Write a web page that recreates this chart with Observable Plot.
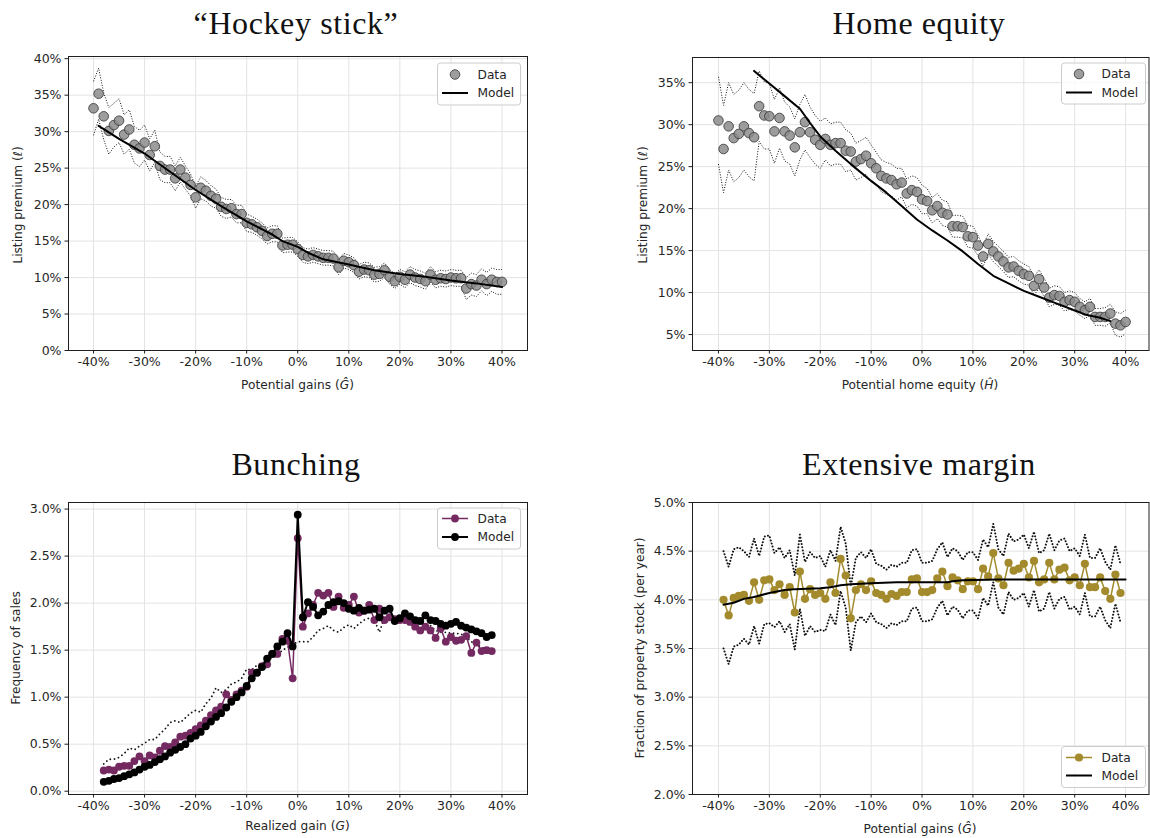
<!DOCTYPE html>
<html><head><meta charset="utf-8">
<script src="https://cdn.jsdelivr.net/npm/d3@7"></script>
<script src="https://cdn.jsdelivr.net/npm/@observablehq/plot@0.6"></script>
<style>
body{margin:0;background:#fff;}
#page{position:relative;width:1150px;height:838px;background:#fff;overflow:hidden;font-family:"DejaVu Sans",sans-serif;}
#page svg{position:absolute;}
</style></head><body><div id="page"></div>
<script>
// ---------- shared x grid (potential / realized gains, %) ----------
const gains = [-40,-39,-38,-37,-36,-35,-34,-33,-32,-31,-30,-29,-28,-27,-26,-25,-24,-23,-22,-21,-20,-19,-18,-17,-16,-15,-14,-13,-12,-11,-10,-9,-8,-7,-6,-5,-4,-3,-2,-1,0,1,2,3,4,5,6,7,8,9,10,11,12,13,14,15,16,17,18,19,20,21,22,23,24,25,26,27,28,29,30,31,32,33,34,35,36,37,38,39,40];
const xTicks = [-40,-30,-20,-10,0,10,20,30,40];

// ---------- Panel 1: "Hockey stick" ----------
const hockeyData = [33.2,35.2,32.1,30.1,30.9,31.5,29.6,30.3,28.2,27.7, 28.5,26.8,28.0,25.3,24.8,24.8,23.6,24.8,23.7,22.7, 21.0,22.3,21.9,21.2,20.8,19.7,19.4,19.5,18.7,18.7, 17.5,17.3,16.9,16.4,15.7,16.0,16.0,14.4,14.5,14.5, 13.9,13.1,12.9,13.1,12.9,12.7,12.7,12.6,11.4,12.3, 12.1,11.7,10.8,11.1,11.0,10.4,10.5,11.0,10.1,9.5, 10.1,9.7,10.4,10.0,9.8,9.5,10.4,9.7,9.9,9.8, 10.0,9.9,9.9,8.5,9.1,8.9,9.7,9.1,9.7,9.4, 9.4];
const hockeyUpper = [36.9,38.7,35.3,33.3,33.9,34.5,32.3,33.0,30.7,30.2, 30.9,29.0,30.2,27.2,26.6,26.6,25.3,26.5,25.3,24.2, 22.5,23.8,23.3,22.6,22.1,21.0,20.7,20.7,19.9,19.9, 18.7,18.4,18.0,17.5,16.8,17.1,17.1,15.4,15.5,15.5, 14.9,14.1,13.9,14.1,13.9,13.7,13.7,13.6,12.4,13.3, 13.1,12.7,11.8,12.1,12.0,11.4,11.5,12.0,11.1,10.5, 11.1,10.8,11.5,11.1,10.9,10.6,11.5,10.8,11.0,10.9, 11.1,11.0,11.0,10.0,10.6,10.4,11.2,10.7,11.3,11.1, 11.1];
const hockeyLower = [29.5,31.7,28.9,26.9,27.9,28.5,26.9,27.6,25.7,25.2, 26.1,24.6,25.8,23.4,23.0,23.0,21.9,23.1,22.1,21.2, 19.5,20.8,20.5,19.8,19.5,18.4,18.1,18.3,17.5,17.5, 16.3,16.2,15.8,15.3,14.6,14.9,14.9,13.4,13.5,13.5, 12.9,12.1,11.9,12.1,11.9,11.7,11.7,11.6,10.4,11.3, 11.1,10.7,9.8,10.1,10.0,9.4,9.5,10.0,9.1,8.5, 9.1,8.6,9.3,8.9,8.7,8.4,9.3,8.6,8.8,8.7, 8.9,8.8,8.8,7.0,7.6,7.4,8.2,7.5,8.1,7.7, 7.7];
const hockeyModelX = [-39,-35,-30,-27,-25,-20,-15,-10,-5,-3,0,2,5,10,15,20,25,30,35,40];
const hockeyModelY = [30.8,29.0,27.0,25.5,24.5,22.0,19.8,17.7,15.9,15.0,14.2,13.4,12.5,11.8,11.0,10.5,10.1,9.6,9.2,8.7];
const hockeyYTicks = [0,5,10,15,20,25,30,35,40];

// ---------- Panel 2: Home equity ----------
const equityData = [30.5,27.1,29.8,28.4,28.9,29.8,29.0,28.5,32.2,31.1, 31.0,29.2,30.8,29.2,28.7,27.3,29.1,30.3,29.1,28.2, 27.6,28.3,27.6,27.8,27.8,26.9,26.8,25.6,25.9,26.3, 25.4,24.8,23.9,23.6,23.4,22.9,23.1,21.8,22.2,22.0, 21.1,20.9,19.8,20.3,19.5,19.3,17.9,17.9,17.8,16.7, 16.6,15.6,14.3,15.8,14.9,14.3,13.7,13.0,13.1,12.6, 12.2,12.0,10.8,11.6,10.6,9.4,9.7,9.6,8.9,9.1, 8.9,8.3,7.9,8.3,7.1,7.1,7.1,7.5,6.3,6.1, 6.5];
const equityUpper = [35.7,32.3,35.0,33.6,34.1,35.0,34.2,33.7,36.4,35.1, 34.9,33.0,34.4,32.7,32.1,30.7,32.4,33.6,32.1,31.1, 30.4,30.8,30.1,30.3,30.3,29.4,29.0,27.8,28.1,28.5, 27.6,26.7,25.8,25.5,25.3,24.8,24.8,23.5,23.9,23.7, 22.8,22.4,21.3,21.8,21.0,20.8,19.2,19.2,19.1,18.0, 17.9,16.8,15.5,17.0,16.1,15.5,14.9,14.2,14.3,13.8, 13.4,13.1,11.9,12.7,11.7,10.5,10.8,10.7,10.0,10.2, 10.0,9.3,8.9,9.3,8.1,8.1,8.2,8.6,7.7,7.5, 7.9];
const equityLower = [25.3,21.9,24.6,23.2,23.7,24.6,23.8,23.3,28.0,27.1, 27.1,25.4,27.2,25.7,25.3,23.9,25.8,27.0,26.1,25.3, 24.8,25.8,25.1,25.3,25.3,24.4,24.6,23.4,23.7,24.1, 23.2,22.9,22.0,21.7,21.5,21.0,21.4,20.1,20.5,20.3, 19.4,19.4,18.3,18.8,18.0,17.8,16.6,16.6,16.5,15.4, 15.3,14.4,13.1,14.6,13.7,13.1,12.5,11.8,11.9,11.4, 11.0,10.9,9.7,10.5,9.5,8.3,8.6,8.5,7.8,8.0, 7.8,7.3,6.9,7.3,6.1,6.1,6.0,6.4,4.9,4.7, 5.1];
const equityModelX = [-33,-30,-27,-24,-22,-20,-17,-14,-10,-7,-4,-1,2,5,8,11,14,17,20,23,26,29,32,35,37];
const equityModelY = [36.4,34.9,33.4,31.9,30.2,28.6,26.9,25.3,23.3,21.9,20.3,18.7,17.4,16.2,14.9,13.4,12.0,11.1,10.2,9.5,8.8,8.1,7.4,7.0,6.6];
const equityYTicks = [5,10,15,20,25,30,35];

// ---------- Panel 3: Bunching (x = -38 .. 38) ----------
const bunchX = gains.slice(2, 79);
const bunchData = [0.22,0.23,0.22,0.26,0.27,0.27,0.32,0.37,0.32,0.38, 0.36,0.43,0.48,0.47,0.52,0.58,0.59,0.62,0.66,0.70, 0.75,0.81,0.86,0.90,1.03,0.97,1.03,1.07,1.11,1.26, 1.26,1.33,1.35,1.46,1.46,1.62,1.60,1.20,2.69,1.75, 1.89,1.98,2.11,2.08,2.11,1.96,2.07,1.95,1.98,2.07, 1.90,1.92,1.98,1.82,1.94,1.82,1.85,1.83,1.82,1.82, 1.80,1.75,1.71,1.75,1.71,1.63,1.73,1.59,1.64,1.60, 1.61,1.65,1.47,1.58,1.49,1.50,1.49];
const bunchModel = [0.10,0.11,0.13,0.14,0.16,0.18,0.20,0.23,0.26,0.28, 0.31,0.34,0.37,0.41,0.44,0.47,0.50,0.56,0.59,0.63, 0.69,0.74,0.79,0.83,0.89,0.95,1.00,1.05,1.12,1.20, 1.26,1.32,1.41,1.46,1.54,1.59,1.68,1.54,2.94,1.85, 2.01,1.96,1.87,1.91,1.98,2.01,2.02,2.00,1.94,1.92, 1.95,1.92,1.93,1.94,1.85,1.92,1.94,1.81,1.84,1.89, 1.86,1.82,1.81,1.87,1.82,1.81,1.78,1.76,1.78,1.80, 1.76,1.74,1.72,1.70,1.68,1.64,1.66];
const bunchDotted = [0.29,0.34,0.34,0.36,0.40,0.46,0.44,0.48,0.51,0.55, 0.55,0.61,0.66,0.73,0.75,0.73,0.78,0.83,0.86,0.84, 0.93,0.99,1.10,1.05,1.08,1.14,1.16,1.20,1.30,1.29, 1.34,1.36,1.39,1.42,1.45,1.50,1.53,1.56,1.59,1.59, 1.59,1.64,1.71,1.73,1.76,1.71,1.69,1.74,1.77,1.73, 1.78,1.82,1.84,1.82,1.69,1.85,1.87,1.84,1.84,1.82, 1.80,1.79,1.80,1.78,1.76,1.71,1.69,1.69,1.68,1.68, 1.67,1.64,1.59,1.56,1.53,1.51,1.51];
const bunchYTicks = [0,0.5,1.0,1.5,2.0,2.5,3.0];

// ---------- Panel 4: Extensive margin (x = -39 .. 39) ----------
const extX = gains.slice(1, 80);
const extData = [4.00,3.84,4.02,4.04,4.05,3.99,4.18,4.00,4.20,4.21, 4.10,4.16,4.05,4.13,3.87,4.29,4.01,4.11,4.05,4.07, 4.01,4.18,4.07,4.42,4.25,3.81,4.10,4.16,4.10,4.19, 4.07,4.05,4.01,4.06,4.04,4.08,4.08,4.21,4.22,4.08, 4.08,4.10,4.22,4.29,4.14,4.23,4.20,4.11,4.19,4.19, 4.11,4.32,4.24,4.48,4.22,4.15,4.38,4.30,4.32,4.37, 4.23,4.40,4.18,4.21,4.38,4.21,4.31,4.33,4.20,4.23, 4.15,4.37,4.13,4.13,4.23,4.09,4.01,4.26,4.07];
const extUpper = [4.50,4.34,4.52,4.54,4.50,4.44,4.63,4.45,4.65,4.66, 4.48,4.54,4.43,4.51,4.25,4.67,4.39,4.49,4.43,4.45, 4.34,4.51,4.40,4.75,4.58,4.14,4.43,4.49,4.43,4.52, 4.37,4.35,4.31,4.36,4.34,4.38,4.38,4.51,4.52,4.38, 4.38,4.40,4.52,4.59,4.44,4.53,4.50,4.41,4.49,4.49, 4.41,4.62,4.54,4.78,4.52,4.45,4.68,4.60,4.62,4.67, 4.53,4.70,4.48,4.51,4.68,4.51,4.61,4.63,4.50,4.53, 4.45,4.67,4.43,4.43,4.53,4.39,4.31,4.56,4.37];
const extLower = [3.50,3.34,3.52,3.54,3.60,3.54,3.73,3.55,3.75,3.76, 3.72,3.78,3.67,3.75,3.49,3.91,3.63,3.73,3.67,3.69, 3.68,3.85,3.74,4.09,3.92,3.48,3.77,3.83,3.77,3.86, 3.77,3.75,3.71,3.76,3.74,3.78,3.78,3.91,3.92,3.78, 3.78,3.80,3.92,3.99,3.84,3.93,3.90,3.81,3.89,3.89, 3.81,4.02,3.94,4.18,3.92,3.85,4.08,4.00,4.02,4.07, 3.93,4.10,3.88,3.91,4.08,3.91,4.01,4.03,3.90,3.93, 3.85,4.07,3.83,3.83,3.93,3.79,3.71,3.96,3.77];
const extModelX = [-39,-37,-35,-33,-30,-27,-25,-20,-18,-16,-14,-10,-5,0,5,6,8,15,20,30,40];
const extModelY = [3.95,3.97,4.01,4.03,4.07,4.10,4.11,4.12,4.13,4.15,4.16,4.17,4.18,4.18,4.18,4.19,4.20,4.21,4.21,4.21,4.21];
const extYTicks = [2.0,2.5,3.0,3.5,4.0,4.5,5.0];

// ---------- colours ----------
const GREY_FILL = "#8c8c8c", GREY_EDGE = "#3c3c3c";
const PURPLE = "#742a60", GOLD = "#a38b2d";

const rows = (xs, ys) => xs.map((x, i) => ({x, y: ys[i]}));
const page = document.getElementById("page");

function panel({left, top, width, height, m, xDomain, yDomain, yTicks, yFmt, marks}) {
  const svg = Plot.plot({
    width, height,
    marginLeft: m[0], marginRight: m[1], marginTop: m[2], marginBottom: m[3],
    x: {domain: xDomain},
    y: {domain: yDomain},
    style: {fontFamily: "DejaVu Sans, sans-serif", fontSize: "12.5px", color: "#262626", background: "transparent", overflow: "visible"},
    marks: [
      Plot.gridX(xTicks, {stroke: "#e3e3e3", strokeOpacity: 1, strokeWidth: 1}),
      Plot.gridY(yTicks, {stroke: "#e3e3e3", strokeOpacity: 1, strokeWidth: 1}),
      ...marks,
      Plot.frame({stroke: "#1e1e1e", strokeWidth: 1}),
      Plot.axisX(xTicks, {tickFormat: d => d + "%", tickSize: 3.5, tickPadding: 3, label: null, stroke: "#1e1e1e"}),
      Plot.axisY(yTicks, {tickFormat: yFmt, tickSize: 3.5, tickPadding: 3.5, label: null, stroke: "#1e1e1e"})
    ]
  });
  svg.style.left = left + "px";
  svg.style.top = top + "px";
  page.appendChild(svg);
}

const dotted = (xs, ys, w, dash, cap = "butt") => Plot.line(rows(xs, ys), {x: "x", y: "y", stroke: "#111", strokeWidth: w, strokeDasharray: dash, strokeLinecap: cap});

// Panel 1
panel({
  left: 0, top: 40, width: 560, height: 360, m: [68, 33, 16, 50],
  xDomain: [-44.9, 45], yDomain: [0, 40.3], yTicks: hockeyYTicks, yFmt: d => d + "%",
  marks: [
    dotted(gains, hockeyUpper, 1, "1,1.6"),
    dotted(gains, hockeyLower, 1, "1,1.6"),
    Plot.dot(rows(gains, hockeyData), {x: "x", y: "y", r: 4.8, fill: GREY_FILL, fillOpacity: 0.85, stroke: GREY_EDGE, strokeOpacity: 0.85, strokeWidth: 1}),
    Plot.line(rows(hockeyModelX, hockeyModelY), {x: "x", y: "y", stroke: "#000", strokeWidth: 2})
  ]
});

// Panel 2
panel({
  left: 600, top: 40, width: 550, height: 360, m: [92, 1.5, 17, 50],
  xDomain: [-45.1, 44.6], yDomain: [3.1, 38.0], yTicks: equityYTicks, yFmt: d => d + "%",
  marks: [
    dotted(gains, equityUpper, 1, "1,1.6"),
    dotted(gains, equityLower, 1, "1,1.6"),
    Plot.dot(rows(gains, equityData), {x: "x", y: "y", r: 4.8, fill: GREY_FILL, fillOpacity: 0.85, stroke: GREY_EDGE, strokeOpacity: 0.85, strokeWidth: 1}),
    Plot.line(rows(equityModelX, equityModelY), {x: "x", y: "y", stroke: "#000", strokeWidth: 2})
  ]
});

// Panel 3
panel({
  left: 0, top: 480, width: 560, height: 358, m: [68, 33, 22, 44],
  xDomain: [-44.9, 45], yDomain: [-0.035, 3.07], yTicks: bunchYTicks, yFmt: d => d.toFixed(1) + "%",
  marks: [
    dotted(bunchX, bunchDotted, 1.8, "0.01,4.2", "round"),
    Plot.line(rows(bunchX, bunchData), {x: "x", y: "y", stroke: PURPLE, strokeWidth: 1.5}),
    Plot.dot(rows(bunchX, bunchData), {x: "x", y: "y", r: 3.9, fill: PURPLE}),
    Plot.line(rows(bunchX, bunchModel), {x: "x", y: "y", stroke: "#000", strokeWidth: 2}),
    Plot.dot(rows(bunchX, bunchModel), {x: "x", y: "y", r: 3.9, fill: "#000"})
  ]
});

// Panel 4
panel({
  left: 600, top: 480, width: 550, height: 358, m: [92, 1.5, 22, 44],
  xDomain: [-45.1, 44.6], yDomain: [2.0, 5.0], yTicks: extYTicks, yFmt: d => d.toFixed(1) + "%",
  marks: [
    dotted(extX, extUpper, 2, "0.01,3.2", "round"),
    dotted(extX, extLower, 2, "0.01,3.2", "round"),
    Plot.line(rows(extX, extData), {x: "x", y: "y", stroke: GOLD, strokeWidth: 1.5}),
    Plot.dot(rows(extX, extData), {x: "x", y: "y", r: 4.1, fill: GOLD}),
    Plot.line(rows(extModelX, extModelY), {x: "x", y: "y", stroke: "#000", strokeWidth: 2})
  ]
});

// ---------- overlay: titles, axis labels, legends ----------
const ov = d3.select(page).append("svg").attr("width", 1150).attr("height", 838)
  .style("left", "0px").style("top", "0px").style("pointer-events", "none")
  .attr("font-family", "DejaVu Sans, sans-serif").attr("fill", "#262626");

const titles = [["\u201CHockey stick\u201D", 296, 34], ["Home equity", 919, 34], ["Bunching", 296, 475], ["Extensive margin", 919, 475]];
for (const [t, x, y] of titles) {
  ov.append("text").attr("x", x).attr("y", y).attr("text-anchor", "middle")
    .attr("font-family", "Liberation Serif, serif").attr("font-size", 32).attr("letter-spacing", 0.6).attr("fill", "#111").text(t);
}

function axLabel(x, y, parts, rotate) {
  const t = ov.append("text").attr("text-anchor", "middle").attr("dominant-baseline", "central")
    .attr("font-size", 12.2).attr("fill", "#262626");
  if (rotate) t.attr("transform", `translate(${x},${y}) rotate(-90)`);
  else t.attr("x", x).attr("y", y);
  for (const [s, it] of parts) t.append("tspan").attr("font-style", it ? "italic" : null).text(s);
}
axLabel(297.5, 385, [["Potential gains (", 0], ["G\u0302", 1], [")", 0]]);
axLabel(920, 385, [["Potential home equity (", 0], ["H\u0302", 1], [")", 0]]);
axLabel(297.5, 826, [["Realized gain (", 0], ["G", 1], [")", 0]]);
axLabel(920, 829, [["Potential gains (", 0], ["G\u0302", 1], [")", 0]]);
axLabel(18, 205, [["Listing premium (", 0], ["\u2113", 1], [")", 0]], true);
axLabel(643, 205, [["Listing premium (", 0], ["\u2113", 1], [")", 0]], true);
axLabel(15.5, 648, [["Frequency of sales", 0]], true);
axLabel(640, 648, [["Fraction of property stock (per year)", 0]], true);

function legend(bx, by, bw, bh, items) {
  ov.append("rect").attr("x", bx).attr("y", by).attr("width", bw).attr("height", bh).attr("rx", 3)
    .attr("fill", "#fff").attr("fill-opacity", 0.8).attr("stroke", "#cccccc");
  for (const it of items) {
    if (it.line) ov.append("line").attr("x1", bx + 4.5).attr("x2", bx + 30.5).attr("y1", it.y).attr("y2", it.y)
      .attr("stroke", it.line).attr("stroke-width", it.lw || 2);
    if (it.dot) ov.append("circle").attr("cx", bx + 17.5).attr("cy", it.y).attr("r", it.r)
      .attr("fill", it.dot).attr("fill-opacity", it.fo || 1).attr("stroke", it.edge || "none").attr("stroke-opacity", 0.85);
    ov.append("text").attr("x", bx + 40).attr("y", it.y).attr("dominant-baseline", "central")
      .attr("font-size", 12.2).attr("fill", "#262626").text(it.label);
  }
}
legend(437.5, 63, 83, 42, [{y: 74.5, dot: GREY_FILL, fo: 0.85, edge: GREY_EDGE, r: 4.8, label: "Data"}, {y: 93, line: "#000", label: "Model"}]);
legend(1061.5, 63, 84, 41, [{y: 74, dot: GREY_FILL, fo: 0.85, edge: GREY_EDGE, r: 4.8, label: "Data"}, {y: 92.5, line: "#000", label: "Model"}]);
legend(437.5, 508, 83, 41, [{y: 518.5, line: PURPLE, lw: 1.5, dot: PURPLE, r: 3.9, label: "Data"}, {y: 537, line: "#000", dot: "#000", r: 3.9, label: "Model"}]);
legend(1061.5, 746.5, 84, 41, [{y: 757.5, line: GOLD, lw: 1.5, dot: GOLD, r: 4.1, label: "Data"}, {y: 775.5, line: "#000", label: "Model"}]);
</script>
</body></html>
